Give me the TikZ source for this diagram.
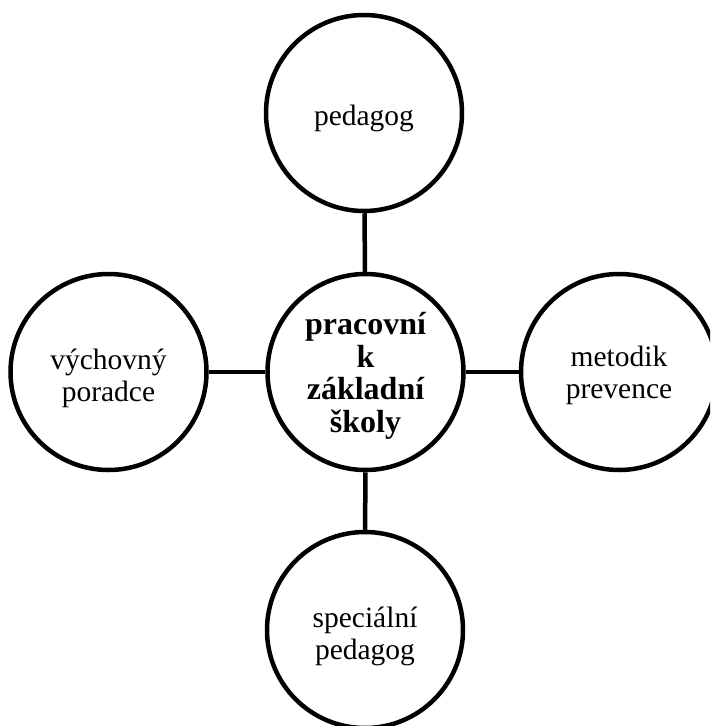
\documentclass[tikz,border=0pt]{standalone}
\usepackage{fontspec}
\setmainfont{Liberation Serif}
\begin{document}
\begin{tikzpicture}[x=1pt,y=-1pt,
  bubble/.style={circle,draw=black,line width=4.5pt,minimum size=196pt,inner sep=0pt},
  txt/.style={inner sep=0pt,align=center,font=\fontsize{29.5}{32}\selectfont},
  hubtxt/.style={txt,font=\fontsize{32}{32.5}\selectfont\bfseries},
  link/.style={line width=4.5pt}]
\useasboundingbox (0,0) rectangle (710,726);
\clip (0,0) rectangle (710,726);
\node[bubble] (c) at (365.5,372) {};
\node[bubble] (t) at (364,113) {};
\node[bubble] (l) at (108.5,372) {};
\node[bubble] (r) at (619,372) {};
\node[bubble] (b) at (365,630) {};
\node[hubtxt] (ct) at ([yshift=-4pt]c.center) {pracovní\\k\\základní\\školy};
\node[txt] (tt) at ([yshift=-5pt]t.center) {pedagog};
\node[txt] (lt) at ([yshift=-6pt]l.center) {výchovný\\poradce};
\node[txt] (rt) at ([yshift=-3pt]r.center) {metodik\\prevence};
\node[txt] (bt) at ([yshift=-6pt]b.center) {speciální\\pedagog};
\draw[link] (t) -- (c);
\draw[link] (l) -- (c);
\draw[link] (c) -- (r);
\draw[link] (c) -- (b);
\end{tikzpicture}
\end{document}
